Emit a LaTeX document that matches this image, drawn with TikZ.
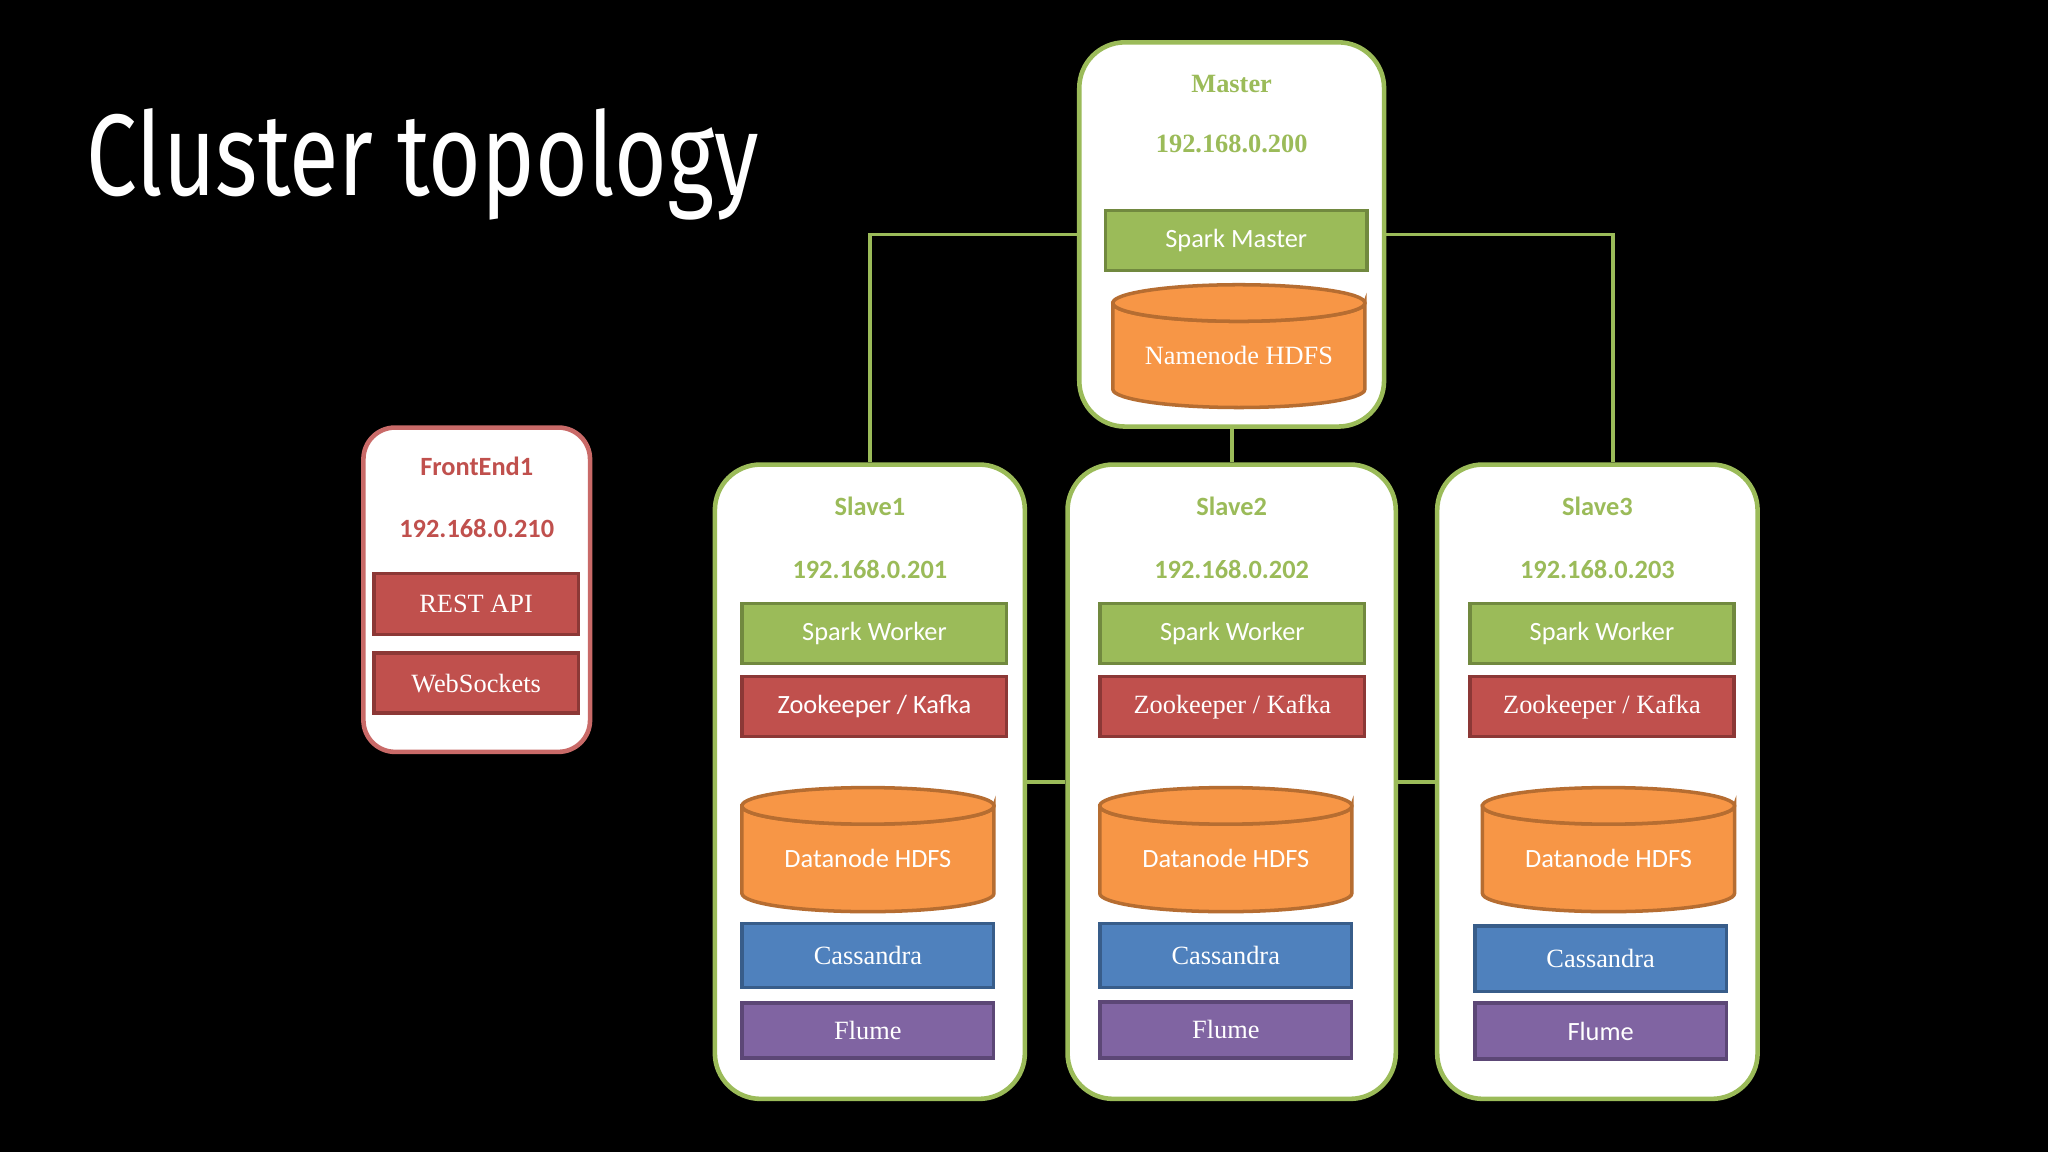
\documentclass[tikz,border=0pt]{standalone}
\usepackage{fontspec}
\setmainfont{Liberation Serif}
\newfontfamily\calfont{Carlito}
\newfontfamily\titlefont{Fira Sans}
\usetikzlibrary{calc}
\definecolor{gfill}{HTML}{9BBB59}\definecolor{gdraw}{HTML}{71893F}
\definecolor{rfill}{HTML}{C0504D}\definecolor{rdraw}{HTML}{8C3836}
\definecolor{ofill}{HTML}{F79646}\definecolor{odraw}{HTML}{B66D31}
\definecolor{bfill}{HTML}{4F81BD}\definecolor{bdraw}{HTML}{385D8A}
\definecolor{pfill}{HTML}{8064A2}\definecolor{pdraw}{HTML}{5C4776}
\tikzset{
 hostg/.style={draw=gfill,line width=1.3pt,fill=white,rounded corners=13pt},
 hostr/.style={draw=rfill!85!white,line width=1.3pt,fill=white,rounded corners=9pt},
 gbox/.style={fill=gfill,draw=gdraw,line width=1pt},
 rbox/.style={fill=rfill,draw=rdraw,line width=1pt},
 bbox/.style={fill=bfill,draw=bdraw,line width=1pt},
 pbox/.style={fill=pfill,draw=pdraw,line width=1pt},
 lbl/.style={text=white,font=\fontsize{7.5}{9}\selectfont},
 gt/.style={text=gfill,font=\fontsize{7.5}{9}\selectfont\bfseries},
 rt/.style={text=rfill,font=\fontsize{7.5}{9}\selectfont\bfseries},
 link/.style={draw=gfill,line width=1.1pt}
}
\newcommand\bx[7]{\node[#6,inner sep=0pt,minimum width={(#4-#2)*0.3706pt},minimum height={(#5-#3)*0.3706pt}] (#1) at ({(#2+#4)/2},{(#3+#5)/2}) {};
 \node[lbl] at (#1) {#7};}
\newcommand\cyl[6]{% name x1 y1 x2 y2 text
 \pgfmathsetmacro\cx{(#2+#4)/2}\pgfmathsetmacro\rx{(#4-#2)/2}
 \fill[ofill,draw=odraw,line width=1pt] (#2,#3+14) -- (#2,#5-14) arc[start angle=180,end angle=0,x radius=\rx,y radius=14] -- (#4,#3+14) arc[start angle=0,end angle=180,x radius=\rx,y radius=14] -- cycle;
 \draw[fill=ofill,draw=odraw,line width=1pt] (\cx,#3+14) ellipse[x radius=\rx,y radius=14];
 \node[lbl] (#1) at (\cx,{(#3+14+#5)/2}) {#6};}
\begin{document}
\begin{tikzpicture}[x=0.013061cm,y=-0.013061cm]
\fill[black] (0,0) rectangle (1568,882);
\useasboundingbox (0,0) rectangle (1568,882);
\node[anchor=west,text=white,inner sep=0pt] (title) at (66,126) {\scalebox{0.78}[1]{\titlefont\fontsize{33}{36}\selectfont Cluster topology}};
% hosts
\node[hostg,minimum width={234*0.3706pt},minimum height={295*0.3706pt}] (M) at (943,179.5) {};
\node[hostg,minimum width={238*0.3706pt},minimum height={487*0.3706pt}] (S1) at (666,598.5) {};
\node[hostg,minimum width={252*0.3706pt},minimum height={487*0.3706pt}] (S2) at (943,598.5) {};
\node[hostg,minimum width={246*0.3706pt},minimum height={487*0.3706pt}] (S3) at (1223,598.5) {};
\node[hostr,minimum width={174*0.3706pt},minimum height={249*0.3706pt}] (F) at (365,451.5) {};
% links
\draw[link] (M.west) -| (S1.north);
\draw[link] (M.east) -| ($(S3.north)+(12,0)$);
\draw[link] (M.south) -- (S2.north);
\draw[link] (S1.east) -- (S2.west);
\draw[link] (S2.east) -- (S3.west);
% master
\node[gt] (mt) at (943,64) {Master};
\node[gt] (mip) at (943,110) {192.168.0.200};
\bx{sm}{846}{161}{1047}{207}{gbox}{\calfont Spark Master}
\cyl{nn}{852}{218}{1045}{312}{Namenode HDFS}
% frontend
\node[rt] (ft) at (365,357) {\calfont FrontEnd1};
\node[rt] (fip) at (365,405) {\calfont 192.168.0.210};
\bx{rest}{286}{439}{443}{486}{rbox}{REST API}
\bx{ws}{286}{500}{443}{546}{rbox}{WebSockets}
% slave1
\node[gt] (s1t) at (666,388) {\calfont Slave1};
\node[gt] (s1ip) at (666,436) {\calfont 192.168.0.201};
\bx{sw1}{568}{462}{771}{508}{gbox}{\calfont Spark Worker}
\bx{zk1}{568}{518}{771}{564}{rbox}{\calfont Zookeeper / Kafka}
\cyl{dn1}{568}{603}{761}{698}{\calfont Datanode HDFS}
\bx{ca1}{568}{707}{761}{756}{bbox}{Cassandra}
\bx{fl1}{568}{768}{761}{810}{pbox}{Flume}
% slave2
\node[gt] (s2t) at (943,388) {\calfont Slave2};
\node[gt] (s2ip) at (943,436) {\calfont 192.168.0.202};
\bx{sw2}{842}{462}{1045}{508}{gbox}{\calfont Spark Worker}
\bx{zk2}{842}{518}{1045}{564}{rbox}{Zookeeper / Kafka}
\cyl{dn2}{842}{603}{1035}{698}{\calfont Datanode HDFS}
\bx{ca2}{842}{707}{1035}{756}{bbox}{Cassandra}
\bx{fl2}{842}{767}{1035}{810}{pbox}{Flume}
% slave3
\node[gt] (s3t) at (1223,388) {\calfont Slave3};
\node[gt] (s3ip) at (1223,436) {\calfont 192.168.0.203};
\bx{sw3}{1125}{462}{1328}{508}{gbox}{\calfont Spark Worker}
\bx{zk3}{1125}{518}{1328}{564}{rbox}{Zookeeper / Kafka}
\cyl{dn3}{1135}{603}{1328}{698}{\calfont Datanode HDFS}
\bx{ca3}{1129}{709}{1322}{759}{bbox}{Cassandra}
\bx{fl3}{1129}{768}{1322}{811}{pbox}{\calfont Flume}
\end{tikzpicture}
\end{document}
